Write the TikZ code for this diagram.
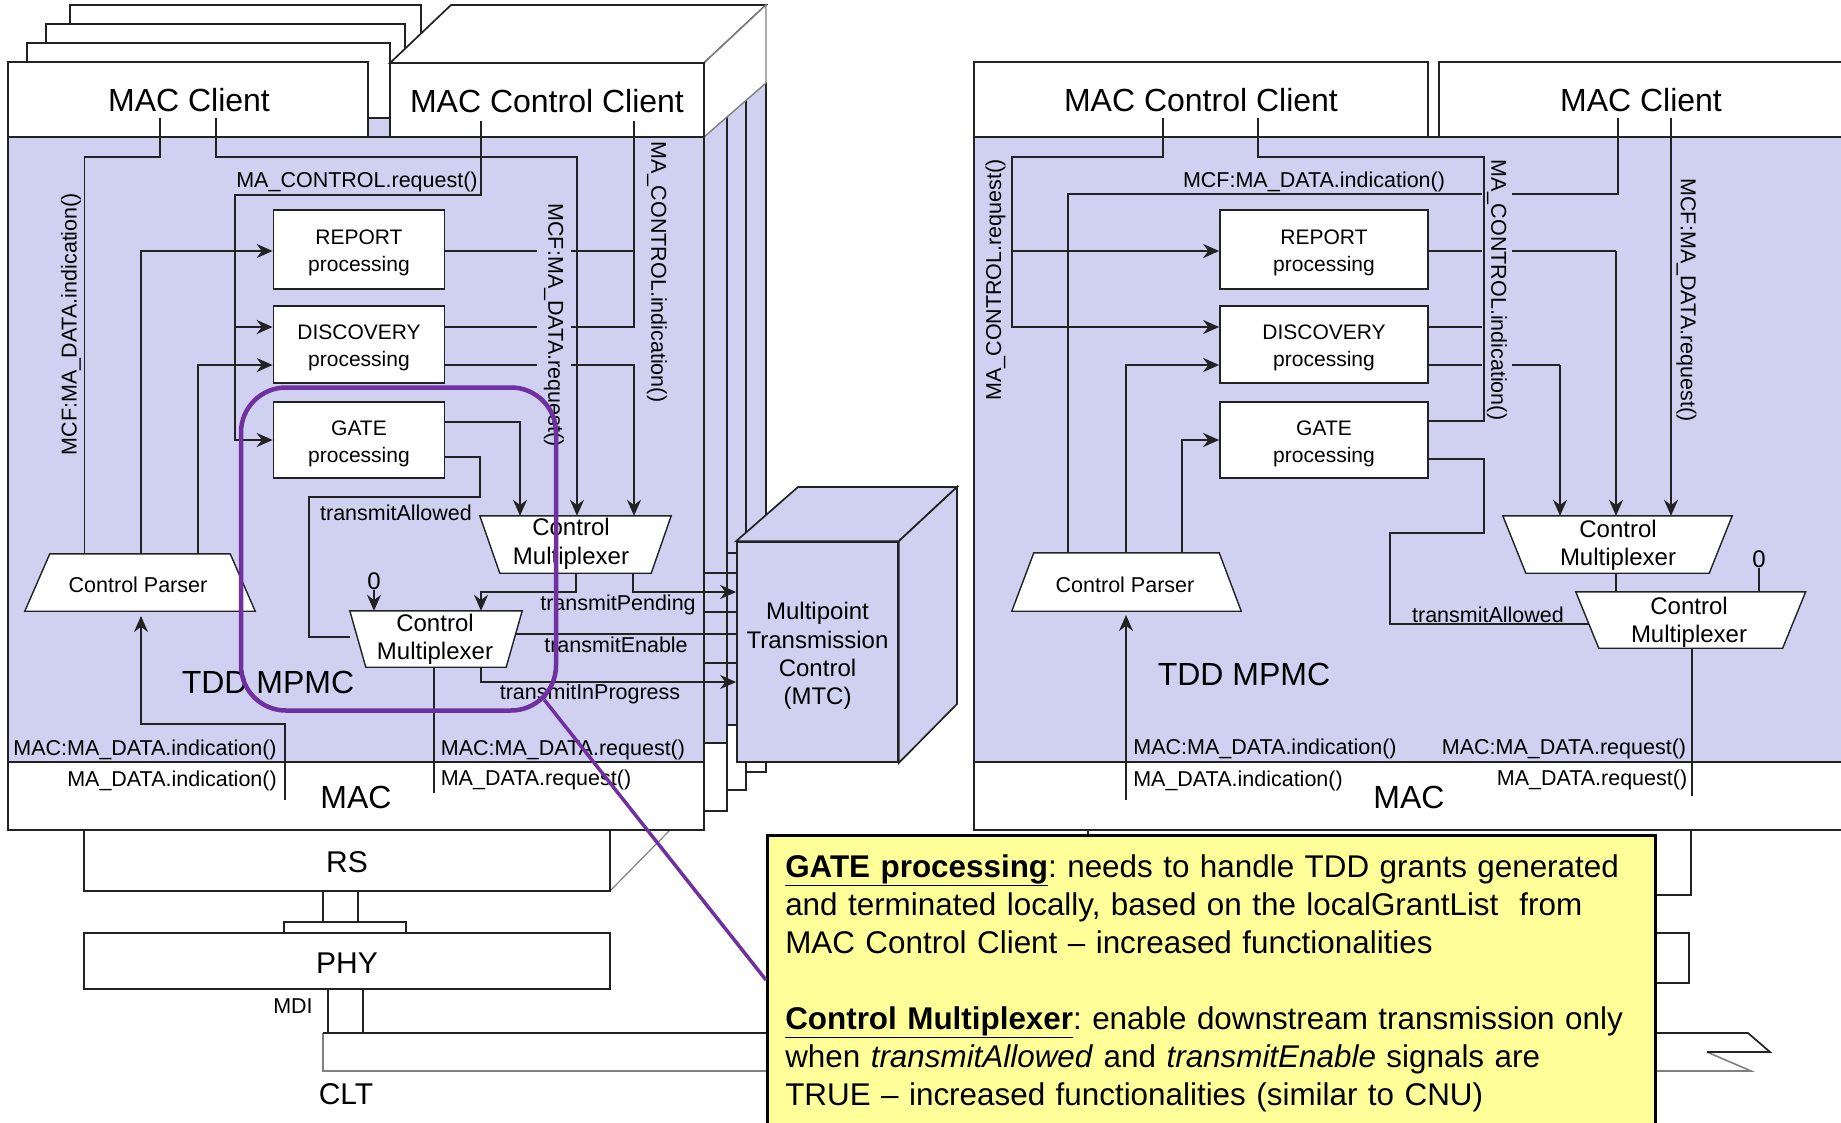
\documentclass[tikz,border=0pt]{standalone}
\usepackage{fontspec}
\setmainfont{Liberation Sans}
\usetikzlibrary{arrows.meta}
\definecolor{lavender}{HTML}{D0D0F0}
\definecolor{inkline}{HTML}{222222}
\definecolor{notefill}{HTML}{FFFF99}
\definecolor{focusline}{HTML}{7030A0}
\newcommand{\downpoly}[2]{\draw[muxline] (#1.north west) -- (#1.north east) -- ([xshift=-#2]#1.south east) -- ([xshift=#2]#1.south west) -- cycle;}
\newcommand{\uppoly}[2]{\draw[muxline] ([xshift=#2]#1.north west) -- ([xshift=-#2]#1.north east) -- (#1.south east) -- (#1.south west) -- cycle;}

\begin{document}
\begin{tikzpicture}[x=1pt,y=-1pt,
    wire/.style={draw=inkline,line width=1.7pt},
    sigarrow/.style={draw=inkline,line width=2.3pt,-{Stealth[length=16pt,width=14pt]}},
    thinarrow/.style={draw=inkline,line width=1.8pt,-{Stealth[length=16pt,width=14pt]}},
    frame/.style={draw=inkline,line width=1.7pt,fill=white,inner sep=0pt,minimum width=#1},
    bigtext/.style={font=\fontsize{32}{38}\selectfont,inner sep=0pt},
    midtext/.style={font=\fontsize{30}{36}\selectfont,inner sep=0pt},
    sigtext/.style={font=\fontsize{21.5}{27}\selectfont,inner sep=0pt},
    fillsig/.style={sigtext,fill=lavender,minimum height=34pt},
    proctext/.style={font=\fontsize{21}{27}\selectfont,inner sep=0pt,align=center},
    muxtext/.style={font=\fontsize{24}{28.5}\selectfont,inner sep=0pt,align=center},
    muxline/.style={draw=inkline,line width=1.4pt,fill=white},
    muxbox/.style={inner sep=0pt,minimum width=#1}]

  \useasboundingbox (0,0) rectangle (1841,1122);

  % stacked instances behind the left MPMC
  \foreach \xr/\ymid/\ybot in {766/708/772,746/725/790,727/743/811} {
    \draw[wire,fill=white] (704,700) rectangle (\xr,\ybot);
    \draw[wire,fill=lavender] (704,83) rectangle (\xr,\ymid);
  }
  \foreach \xa/\xb/\ya in {70/421/5,46/405/24,27/390/43} {
    \draw[wire,fill=white] (\xa,\ya) rectangle (\xb,118);
  }
  \fill[lavender] (368,119) rectangle (390,137);
  \draw[wire,fill=white] (390,63) -- (451,5) -- (766,5) -- (704,63) -- cycle;
  \draw[draw=gray,line width=1.4pt,fill=white] (704,63) -- (766,5) -- (766,83) -- (704,137) -- cycle;

  \draw[draw=gray,line width=1.2pt] (610,891) -- (670,830);
  \node[frame=526,minimum height=61] (lrs) at (347,860.5) {};
  \node[frame=122,minimum height=11] (lconn) at (345,927.5) {};
  \node[frame=526,minimum height=56] (lphy) at (347,961) {};

  % left MPMC
  \node[frame=696,minimum height=625,fill=lavender] (lmpmc) at (356,449.5) {};
  \node[frame=696,minimum height=68] (lmac) at (356,796) {};
  \node[frame=360,minimum height=75] (lclient) at (188,99.5) {};
  \node[frame=314,minimum height=74] (lcontrol) at (547,100) {};
  \node[frame=161,minimum height=220,fill=lavender] (mtc) at (817.5,652) {};
  \draw[wire,fill=lavender] (mtc.north west) -- (798,487) -- (957,487) -- (mtc.north east) -- cycle;
  \draw[wire,fill=lavender] (mtc.north east) -- (957,487) -- (957,704) -- (mtc.south east) -- cycle;
  \node[muxtext,font=\fontsize{24}{28.3}\selectfont] (mtctext) at (817.5,656) {Multipoint\\Transmission\\Control\\(MTC)};

  \node[frame=171,minimum height=79] (lreport) at (359,249.5) {};
  \node[frame=171,minimum height=77] (ldisc) at (359,344.5) {};
  \node[frame=171,minimum height=76] (lgate) at (359,440) {};
  \node[proctext] (lreporttext) at (359,252.5) {REPORT\\processing};
  \node[proctext] (ldisctext) at (359,347.5) {DISCOVERY\\processing};
  \node[proctext] (lgatetext) at (359,444) {GATE\\processing};

  \coordinate (lcliA) at (160,118);
  \coordinate (lcliB) at (216,118);
  \coordinate (lctlA) at (481,121);
  \coordinate (lctlB) at (634,121);
  \coordinate (lmacA) at (434,793);
  \coordinate (lmacB) at (285,800);

  \node[muxbox=191,minimum height=57] (lmuxa) at (575.5,544.5) {};
  \node[muxbox=172,minimum height=56] (lmuxb) at (436,639) {};
  \node[muxbox=230,minimum height=57] (lparser) at (140,582.5) {};
  \node[muxtext] (lzero) at (374,581) {0};

  \foreach \yy in {573,612,663} {
    \draw[wire] (704,\yy) -- (mtc.west |- 0,\yy);
  }
  \draw[wire] (727,553) -- (mtc.west |- 0,553);
  \draw[wire] (727,725) -- (mtc.west |- 0,725);

  \draw[wire] (lcliA) |- (84.5,157) -- (84.5,0 |- lparser.north);
  \draw[thinarrow] (lcliB) |- (577,157) -- (577,0 |- lmuxa.north);
  \draw[thinarrow] (lctlA) |- (235,195) |- (lgate.west);
  \draw[sigarrow] (235,327) -- ([yshift=17.5]ldisc.west);
  \draw[sigarrow] (141,0 |- lparser.north) |- ([yshift=-1.5]lreport.west);
  \draw[sigarrow] (198,0 |- lparser.north) |- ([yshift=-20.5]ldisc.west);
  \draw[wire] (lctlB) |- ([yshift=17.5]ldisc.east);
  \draw[wire] ([yshift=-1.5]lreport.east) -- (634,251);
  \draw[thinarrow] ([yshift=-20.5]ldisc.east) -| (634,0 |- lmuxa.north);
  \draw[thinarrow] ([yshift=18]lgate.east) -| (520,0 |- lmuxa.north);
  \draw[wire] ([yshift=-17]lgate.east) -| (480,497) -| (309,637) -- (lmuxb.west |- 309,637);
  \draw[thinarrow] (576,0 |- lmuxa.south) |- (481,592) -- (481,0 |- lmuxb.north);
  \draw[sigarrow] (633,0 |- lmuxa.south) |- (mtc.west |- 0,592);
  \draw[thinarrow] (lzero.south) -- (lzero.south |- lmuxb.north);
  \draw[wire] (lmuxb.center |- 0,634) -- (mtc.west |- 0,634);
  \draw[sigarrow] (481,0 |- lmuxb.south) |- (mtc.west |- 0,682);
  \draw[wire] (434,0 |- lmuxb.south) -- (lmacA);
  \draw[thinarrow] (lmacB) |- (141,724) -- (141,616);

  \downpoly{lmuxa}{20}
  \downpoly{lmuxb}{16}
  \uppoly{lparser}{25}

  \node[muxtext] (lmuxatext) at (571,544) {Control\\Multiplexer};
  \node[muxtext] (lmuxbtext) at (435,639.5) {Control\\Multiplexer};
  \node[sigtext] (lparsertext) at (138,585) {Control Parser};

  \node[bigtext] at ([xshift=1,yshift=-1]lclient.center) {MAC Client};
  \node[bigtext] at ([yshift=-1]lcontrol.center) {MAC Control Client};
  \node[bigtext] (lmactext) at (356,797) {MAC};
  \node[bigtext] (lmpmctext) at (268,682) {TDD MPMC};
  \node[midtext] (lrstext) at (347,862) {RS};
  \node[midtext] (lphytext) at (347,963) {PHY};
  \node[midtext] (clttext) at (346,1094) {CLT};
  \node[sigtext] (mditext) at (293,1006) {MDI};

  \node[sigtext,rotate=90] at (71,324) {MCF:MA\_DATA.indication()};
  \node[sigtext] at (357,182) {MA\_CONTROL.request()};
  \node[fillsig,rotate=270] at (554,325) {MCF:MA\_DATA.request()};
  \node[sigtext,rotate=270] at (657,272) {MA\_CONTROL.indication()};
  \node[sigtext] at (396,513) {transmitAllowed};
  \node[sigtext] at (618,605) {transmitPending};
  \node[sigtext] at (616,645) {transmitEnable};
  \node[sigtext] at (590,694) {transmitInProgress};
  \node[sigtext] at (145,750) {MAC:MA\_DATA.indication()};
  \node[sigtext] at (172,781) {MA\_DATA.indication()};
  \node[sigtext] at (563,750) {MAC:MA\_DATA.request()};
  \node[sigtext] at (536,780) {MA\_DATA.request()};

  \draw[wire] (323,0 |- lrs.south) -- (323,0 |- lconn.north);
  \draw[wire] (358,0 |- lrs.south) -- (358,0 |- lconn.north);
  \draw[wire] (328,0 |- lphy.south) -- (328,1033);
  \draw[wire] (363,0 |- lphy.south) -- (363,1033);

  % medium bar
  \fill[white] (323,1033) -- (1748,1033) -- (1770,1052) -- (1707,1052) -- (1751,1071) -- (323,1071) -- cycle;
  \draw[draw=gray,line width=1.6pt] (1707,1052) -- (1751,1071) -- (323,1071) -- (323,1033);
  \draw[wire] (323,1033) -- (1748,1033) -- (1770,1052) -- (1707,1052);

  % right MPMC
  \node[frame=603,minimum height=65] (rrs) at (1389.5,862.5) {};
  \node[frame=389,minimum height=50] (rphy) at (1494.5,958) {};
  \node[frame=868,minimum height=625,fill=lavender] (rmpmc) at (1408,449.5) {};
  \node[frame=868,minimum height=68] (rmac) at (1408,796) {};
  \node[frame=454,minimum height=75] (rcontrol) at (1201,99.5) {};
  \node[frame=406,minimum height=75] (rclient) at (1642,99.5) {};

  \node[frame=208,minimum height=79] (rreport) at (1324,249.5) {};
  \node[frame=208,minimum height=77] (rdisc) at (1324,344.5) {};
  \node[frame=208,minimum height=76] (rgate) at (1324,440) {};
  \node[proctext] (rreporttext) at (1324,252.5) {REPORT\\processing};
  \node[proctext] (rdisctext) at (1324,347.5) {DISCOVERY\\processing};
  \node[proctext] (rgatetext) at (1324,444) {GATE\\processing};

  \coordinate (rctlA) at (1163,118);
  \coordinate (rctlB) at (1258,118);
  \coordinate (rcliA) at (1618,118);
  \coordinate (rcliB) at (1671,118);
  \coordinate (rmacA) at (1692,796);
  \coordinate (rmacB) at (1126,800);

  \node[muxbox=229,minimum height=57] (rmuxa) at (1617.5,544.5) {};
  \node[muxbox=229.5,minimum height=56] (rmuxb) at (1690.7,620) {};
  \node[muxbox=229,minimum height=58] (rparser) at (1126.5,582) {};
  \node[muxtext] (rzero) at (1759,559) {0};

  \draw[thinarrow] (rctlA) |- (1012,157) |- ([yshift=17.5]rdisc.west);
  \draw[sigarrow] (1012,251) -- ([yshift=-1.5]rreport.west);
  \draw[wire] (rcliA) |- (1068,194) -- (1068,0 |- rparser.north);
  \draw[sigarrow] (1126,0 |- rparser.north) |- ([yshift=-20.5]rdisc.west);
  \draw[sigarrow] (1182,0 |- rparser.north) |- (rgate.west);
  \draw[wire] ([yshift=-1.5]rreport.east) -- (1616,251);
  \draw[wire] ([yshift=17.5]rdisc.east) -- (1484,327);
  \draw[wire] ([yshift=-20.5]rdisc.east) -- (1560,365);
  \node[fillsig,rotate=270,minimum height=30pt] at (1497,290) {MA\_CONTROL.indication()};
  \draw[wire] (rctlB) |- (1484,157) |- ([yshift=19]rgate.east);
  \draw[thinarrow] (1616,251) -- (1616,0 |- rmuxa.north);
  \draw[thinarrow] (1560,365) -- (1560,0 |- rmuxa.north);
  \draw[sigarrow] (rcliB) -- (1671,0 |- rmuxa.north);
  \draw[wire] ([yshift=-19]rgate.east) -| (1484,533) -| (1390,624) -- (1600,624);
  \draw[wire] (1616,0 |- rmuxa.south) -- (1616,0 |- rmuxb.north);
  \draw[wire] (rzero.south) -- (rzero.south |- rmuxb.north);
  \draw[wire] (1692,0 |- rmuxb.south) -- (rmacA);
  \draw[thinarrow] (rmacB) -- (1126,615);

  \downpoly{rmuxa}{23}
  \downpoly{rmuxb}{23}
  \uppoly{rparser}{22}

  \node[muxtext] (rmuxatext) at (1618,545.5) {Control\\Multiplexer};
  \node[muxtext] (rmuxbtext) at (1689,622.5) {Control\\Multiplexer};
  \node[sigtext] (rparsertext) at (1125,585) {Control Parser};

  \node[bigtext] at ([xshift=-1,yshift=-1]rclient.center) {MAC Client};
  \node[bigtext] at ([yshift=-1]rcontrol.center) {MAC Control Client};
  \node[bigtext] (rmactext) at (1409,797) {MAC};
  \node[bigtext] (rmpmctext) at (1244,674) {TDD MPMC};

  \node[sigtext] at (1314,182) {MCF:MA\_DATA.indication()};
  \node[sigtext,rotate=90] at (995.5,280) {MA\_CONTROL.request()};
  \node[sigtext,rotate=270] at (1686.5,300) {MCF:MA\_DATA.request()};
  \node[sigtext] at (1488,615) {transmitAllowed};
  \node[sigtext] at (1265,749) {MAC:MA\_DATA.indication()};
  \node[sigtext] at (1238,781) {MA\_DATA.indication()};
  \node[sigtext] at (1564,749) {MAC:MA\_DATA.request()};
  \node[sigtext] at (1592,780) {MA\_DATA.request()};

  % highlight and note
  \node[draw=focusline,line width=4.5pt,rounded corners=45pt,minimum width=315,minimum height=323,inner sep=0pt] (gatefocus) at (398.5,549) {};
  \node[anchor=north west,draw=black,line width=2.5pt,fill=notefill,text width=852pt,inner xsep=18pt,inner ysep=19pt,
        align=left,font=\fontsize{31.4}{38}\selectfont] (note) at (766,834)
    {\frenchspacing\underline{\textbf{GATE processing}}: needs to handle TDD grants generated\\
     and terminated locally, based on the localGrantList\ \ from\\
     MAC Control Client -- increased functionalities\\
     \mbox{}\\
     \underline{\textbf{Control Multiplexer}}: enable downstream transmission only\\
     when \textit{transmitAllowed} and \textit{transmitEnable} signals are\\
     TRUE -- increased functionalities (similar to CNU)};
  \draw[draw=focusline,line width=3.5pt] ([xshift=-14,yshift=13]gatefocus.south east) -- ([yshift=-146]note.north west);
\end{tikzpicture}
\end{document}
